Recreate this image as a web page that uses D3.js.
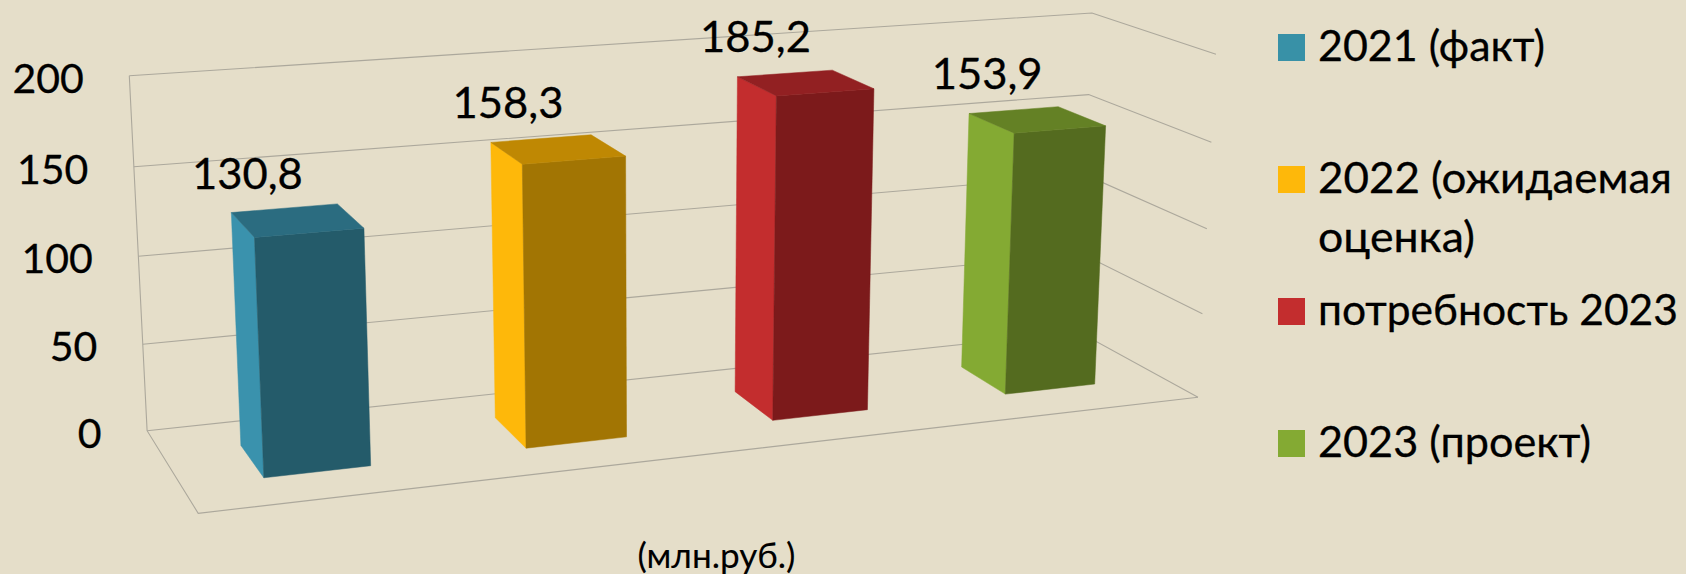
<!DOCTYPE html>
<html><head><meta charset="utf-8">
<script src="https://cdnjs.cloudflare.com/ajax/libs/d3/7.8.5/d3.min.js"></script>
<style>html,body{margin:0;padding:0;background:#E5DEC9}svg{display:block}text{font-family:Lato,"Open Sans",sans-serif;fill:#000;stroke:#000;stroke-width:0.3px}</style>
</head><body><svg id="c" width="1686" height="574"></svg>
<script>
// ---- data ----
const categories = ["2021 (факт)", "2022 (ожидаемая оценка)", "потребность 2023", "2023 (проект)"];
const values = [130.8, 158.3, 185.2, 153.9];
const yTicks = [0, 50, 100, 150, 200];
const yMax = 200;
const unitLabel = "(млн.руб.)";
const legendLines = [["2021 (факт)"], ["2022 (ожидаемая", "оценка)"], ["потребность 2023"], ["2023 (проект)"]];

// ---- layout / style ----
const W = 1686, H = 574;
const palette = [
  {side:"#3A92AD", front:"#245B6A", top:"#2B6C80", key:"#3891A7"},
  {side:"#FEB80A", front:"#A27503", top:"#BF8803", key:"#FEB80A"},
  {side:"#C32D2E", front:"#7C1A1B", top:"#922022", key:"#C32D2E"},
  {side:"#84AA33", front:"#546B1F", top:"#648125", key:"#84AA33"}
];
// rendered width of the legend lines, to fit the reference's wider face
const legendWidths = [[227],[354,157],[360],[273]];
// projected corners of the plot box
const O  = [147.1, 430.7], // back-left floor
      X  = [1079, 332],    // back-right floor
      XT = [1092, 11.7],   // back-right top
      T  = [129.3, 75.7],  // back-left top
      D  = [198.2, 513.3], // front-left floor
      XD = [1197.5, 397];  // front-right floor

function solve2(m11, m12, m21, m22, r1, r2){
  const det = m11*m22 - m12*m21;
  return [(r1*m22 - m12*r2)/det, (m11*r2 - r1*m21)/det];
}
const [a1, c] = solve2(X[0]-XT[0], T[0]-XT[0], X[1]-XT[1], T[1]-XT[1], O[0]-XT[0], O[1]-XT[1]);
const [a2, b] = solve2(X[0]-XD[0], D[0]-XD[0], X[1]-XD[1], D[1]-XD[1], O[0]-XD[0], O[1]-XD[1]);
const a = (a1+a2)/2;
// perspective projection of box coordinates (u along categories, d depth, t height) to the page
function project(u, d, t){
  const w = 1 + u*(a-1) + d*(b-1) + t*(c-1);
  const f = i => (O[i] + u*(a*X[i]-O[i]) + d*(b*D[i]-O[i]) + t*(c*T[i]-O[i]))/w;
  return [f(0), f(1)];
}

const xBand = d3.scaleBand().domain(categories).range([0,1]).paddingInner(0.6).paddingOuter(0.3);
const yVal = d3.scaleLinear().domain([0,yMax]).range([0,1]);
const depth = d3.scaleLinear().domain([0,1]).range([0.3,0.7]);
const fmt = d3.formatLocale({decimal:",",thousands:" ",grouping:[3],currency:["",""]}).format(".1f");

const svg = d3.select("#c");
svg.append("rect").attr("width",W).attr("height",H).attr("fill","#E5DEC9");
const path = d3.line();
const gridColor = "#ACA89C";

// walls and gridlines
const grid = svg.append("g").attr("fill","none").attr("stroke",gridColor).attr("stroke-width",1.1);
grid.selectAll("path.back").data(yTicks).join("path").attr("class","back")
  .attr("d", v => path([project(0,0,yVal(v)), project(1,0,yVal(v)), project(1,1,yVal(v))]));
grid.append("path").attr("d", path([project(0,0,1), project(0,0,0), project(0,1,0), project(1,1,0)]));

// bars
const bars = svg.append("g").selectAll("g").data(categories.map((cat,i)=>({cat,i,v:values[i]}))).join("g");
bars.each(function(r){
  const g = d3.select(this);
  const u0 = xBand(r.cat), u1 = u0 + xBand.bandwidth();
  const d0 = depth(0), d1 = depth(1), t = yVal(r.v);
  const col = palette[r.i];
  g.append("path").attr("fill",col.side).attr("stroke",col.side).attr("stroke-width",0.5)
    .attr("d", path([project(u0,d0,t),project(u0,d1,t),project(u0,d1,0),project(u0,d0,0)])+"Z");
  g.append("path").attr("fill",col.front).attr("stroke",col.front).attr("stroke-width",0.5)
    .attr("d", path([project(u0,d1,t),project(u1,d1,t),project(u1,d1,0),project(u0,d1,0)])+"Z");
  g.append("path").attr("fill",col.top).attr("stroke",col.top).attr("stroke-width",0.5)
    .attr("d", path([project(u0,d0,t),project(u1,d0,t),project(u1,d1,t),project(u0,d1,t)])+"Z");
  const mid = project((u0+u1)/2, 0.5, t);
  g.append("text").attr("x",mid[0]-49.5).attr("y",mid[1]-31).attr("text-anchor","middle")
    .attr("font-size",42).attr("textLength",111).attr("lengthAdjust","spacingAndGlyphs").text(fmt(r.v));
});

// value axis labels
svg.append("g").selectAll("text").data(yTicks).join("text")
  .attr("text-anchor","end").attr("font-size",41)
  .attr("x", v => project(0,0,yVal(v))[0]-45.5)
  .attr("y", v => project(0,0,yVal(v))[1]+17)
  .text(d => d);

// legend
const legendY = [61,193,325,457];
const lg = svg.append("g").selectAll("g").data(legendLines).join("g");
lg.append("rect").attr("x",1278).attr("width",27).attr("height",27)
  .attr("y",(d,i)=>legendY[i]-27).attr("fill",(d,i)=>palette[i].key);
lg.each(function(lines,i){
  d3.select(this).selectAll("text").data(lines).join("text")
    .attr("x",1318).attr("y",(l,k)=>legendY[i]+k*59).attr("font-size",42)
    .attr("textLength",(l,k)=>legendWidths[i][k]).attr("lengthAdjust","spacingAndGlyphs").text(l=>l);
});

svg.append("text").attr("x",716.5).attr("y",568).attr("text-anchor","middle").attr("font-size",35)
  .attr("stroke-width",0).style("stroke-width","0.1px")
  .attr("textLength",158).attr("lengthAdjust","spacingAndGlyphs").text(unitLabel);
</script></body></html>
